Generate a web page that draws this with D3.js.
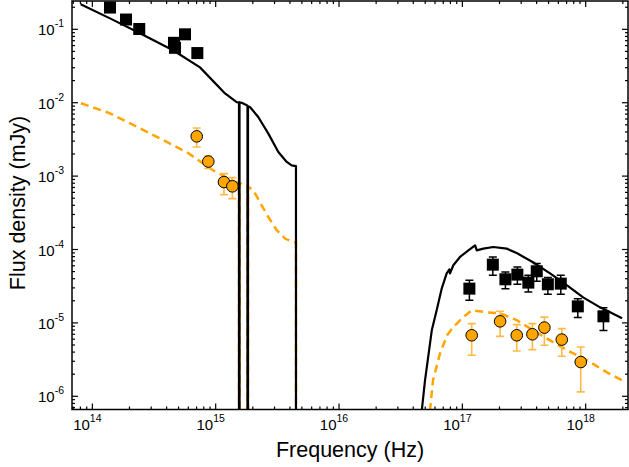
<!DOCTYPE html>
<html>
<head>
<meta charset="utf-8">
<script src="https://cdn.jsdelivr.net/npm/d3@7"></script>
<style>
  html, body { margin: 0; padding: 0; background: #fff; }
  svg { display: block; }
  text { font-family: Arial, "Liberation Sans", sans-serif; fill: #000; }
</style>
</head>
<body>
<svg id="chart" width="629" height="467"></svg>
<script>
// ---- Data (frequency in Hz, flux density in mJy) ----
// Black squares, optical/NIR (no error bars)
const sqOptNu   = [1.39e14, 1.875e14, 2.40e14, 4.59e14, 4.68e14, 5.64e14, 7.10e14];
const sqOptFlux = [0.198, 0.136, 0.101, 0.0655, 0.056, 0.0855, 0.0475];

// Orange circles, optical/UV
const circOptNu   = [7.02e14, 8.71e14, 1.167e15, 1.365e15];
const circOptFlux = [3.48e-3, 1.58e-3, 8.3e-4, 7.26e-4];
const circOptHi   = [4.52e-3, 1.88e-3, 1.08e-3, 9.55e-4];
const circOptLo   = [2.49e-3, 1.27e-3, 5.6e-4, 4.93e-4];

// Black squares, X-ray
const sqXNu   = [1.14e17, 1.766e17, 2.234e17, 2.793e17, 3.428e17, 4.009e17, 4.932e17, 6.28e17, 8.63e17, 1.393e18];
const sqXFlux = [2.93e-5, 6.22e-5, 3.93e-5, 4.55e-5, 3.54e-5, 5.05e-5, 3.36e-5, 3.43e-5, 1.68e-5, 1.23e-5];
const sqXHi   = [3.80e-5, 7.91e-5, 4.93e-5, 5.78e-5, 4.46e-5, 6.43e-5, 4.14e-5, 4.46e-5, 2.14e-5, 1.61e-5];
const sqXLo   = [2.03e-5, 4.46e-5, 2.93e-5, 3.36e-5, 2.64e-5, 3.69e-5, 2.45e-5, 2.45e-5, 1.18e-5, 7.9e-6];

// Orange circles, X-ray
const circXNu   = [1.191e17, 2.023e17, 2.761e17, 3.698e17, 4.624e17, 6.40e17, 9.12e17];
const circXFlux = [6.78e-6, 1.05e-5, 6.78e-6, 7.0e-6, 8.63e-6, 5.92e-6, 2.93e-6];
const circXHi   = [9.77e-6, 1.44e-5, 9.48e-6, 9.77e-6, 1.20e-5, 8.36e-6, 4.70e-6];
const circXLo   = [3.62e-6, 6.56e-6, 4.14e-6, 4.33e-6, 4.95e-6, 3.51e-6, 1.15e-6];

// Black solid model (1e-9 = absorbed to zero)
const modelBlackNu = [8.04e13, 1.39e14, 2.43e14, 4.51e14, 7.46e14, 1.191e15, 1.479e15, 1.545e15, 1.545e15,
  1.560e15, 1.560e15, 1.626e15, 1.782e15, 1.811e15, 1.811e15, 1.828e15, 1.828e15, 1.897e15, 2.213e15,
  2.673e15, 3.221e15, 3.767e15, 4.130e15, 4.477e15, 4.477e15,
  4.58e16, 4.69e16, 4.98e16, 5.65e16, 6.19e16, 6.81e16, 7.46e16, 7.85e16, 7.94e16, 8.45e16, 9.57e16,
  1.119e17, 1.268e17, 1.309e17, 1.479e17, 1.782e17, 2.291e17, 2.780e17, 3.741e17, 5.14e17, 7.06e17,
  9.53e17, 1.309e18, 1.972e18];
const modelBlackFlux = [0.219, 0.141, 0.0883, 0.0518, 0.0303, 0.0134, 0.0102, 0.0101, 1e-9,
  1e-9, 0.0101, 0.0100, 0.00923, 0.00908, 1e-9, 1e-9, 0.00893, 0.00873, 0.00638,
  0.00379, 0.00213, 0.00156, 0.00140, 0.00137, 1e-9,
  1e-9, 6.44e-7, 1.65e-6, 7.92e-6, 1.49e-5, 2.96e-5, 4.74e-5, 5.37e-5, 4.74e-5, 6.10e-5, 7.91e-5,
  9.75e-5, 1.140e-4, 9.75e-5, 1.028e-4, 1.081e-4, 1.028e-4, 8.87e-5, 6.70e-5, 4.74e-5, 3.25e-5,
  2.23e-5, 1.63e-5, 1.156e-5];

// Orange dashed model
const modelOrangeNu = [8.09e13, 1.39e14, 2.93e14, 5.85e14, 9.51e14, 1.435e15, 1.545e15, 1.545e15,
  1.560e15, 1.560e15, 1.675e15, 1.811e15, 1.811e15, 1.828e15, 1.828e15, 2.018e15, 2.360e15, 2.673e15,
  3.126e15, 3.648e15, 4.256e15, 4.477e15, 4.477e15,
  5.42e16, 5.47e16, 5.78e16, 6.59e16, 7.52e16, 8.41e16, 1.014e17, 1.197e17, 1.585e17, 2.023e17,
  2.780e17, 3.741e17, 5.14e17, 7.06e17, 1.026e18, 1.489e18, 1.972e18];
const modelOrangeFlux = [0.00982, 0.00718, 0.00383, 0.00211, 0.00120, 8.32e-4, 8.11e-4, 1e-9,
  1e-9, 8.1e-4, 7.50e-4, 7.26e-4, 1e-9, 1e-9, 7.2e-4, 6.41e-4, 4.00e-4, 2.77e-4,
  1.83e-4, 1.41e-4, 1.26e-4, 1.25e-4, 1e-9,
  1e-9, 6.44e-7, 1.65e-6, 3.85e-6, 6.78e-6, 8.71e-6, 1.19e-5, 1.49e-5, 1.39e-5, 1.35e-5,
  1.08e-5, 7.92e-6, 5.79e-6, 4.24e-6, 3.09e-6, 2.12e-6, 1.65e-6];

// Tick decades
const xTickExps = [14, 15, 16, 17, 18];
const yTickExps = [-6, -5, -4, -3, -2, -1];

// ---- Layout ----
const L = 72, R = 628, T = 1, B = 409.5;
const svg = d3.select("#chart");

const x = d3.scaleLog().domain([Math.pow(10, 13.835), Math.pow(10, 18.343)]).range([L, R]);
const y = d3.scaleLog().domain([Math.pow(10, -6.18), Math.pow(10, -0.614)]).range([B, T]);

svg.append("defs").append("clipPath").attr("id", "clip")
  .append("rect").attr("x", L).attr("y", T).attr("width", R - L).attr("height", B - T);

const plot = svg.append("g").attr("clip-path", "url(#clip)");

const line = d3.line().x(d => x(d[0])).y(d => y(d[1]));

// Orange dashed model
plot.append("path")
  .datum(d3.zip(modelOrangeNu, modelOrangeFlux))
  .attr("d", line)
  .attr("fill", "none")
  .attr("stroke", "#FFA500")
  .attr("stroke-width", 2.5)
  .attr("stroke-dasharray", "8,5");

// Black solid model
plot.append("path")
  .datum(d3.zip(modelBlackNu, modelBlackFlux))
  .attr("d", line)
  .attr("fill", "none")
  .attr("stroke", "#000")
  .attr("stroke-width", 2.2)
  .attr("stroke-linejoin", "round");

// Error bars
function errorBars(nu, lo, hi, color, width) {
  const g = plot.append("g").attr("stroke", color).attr("stroke-width", width).attr("fill", "none");
  const cap = 4;
  nu.forEach((n, i) => {
    const cx = x(n);
    g.append("line").attr("x1", cx).attr("x2", cx).attr("y1", y(lo[i])).attr("y2", y(hi[i]));
    g.append("line").attr("x1", cx - cap).attr("x2", cx + cap).attr("y1", y(lo[i])).attr("y2", y(lo[i]));
    g.append("line").attr("x1", cx - cap).attr("x2", cx + cap).attr("y1", y(hi[i])).attr("y2", y(hi[i]));
  });
}
errorBars(sqXNu, sqXLo, sqXHi, "#000", 1.5);
errorBars(circOptNu, circOptLo, circOptHi, "#FDB94A", 1.6);
errorBars(circXNu, circXLo, circXHi, "#FDB94A", 1.6);

// Squares
const sq = 12;
function squares(nu, flux) {
  plot.append("g").selectAll("rect").data(d3.zip(nu, flux)).join("rect")
    .attr("x", d => x(d[0]) - sq / 2).attr("y", d => y(d[1]) - sq / 2)
    .attr("width", sq).attr("height", sq).attr("fill", "#000");
}
squares(sqOptNu, sqOptFlux);
squares(sqXNu, sqXFlux);

// Circles
function circles(nu, flux) {
  plot.append("g").selectAll("circle").data(d3.zip(nu, flux)).join("circle")
    .attr("cx", d => x(d[0])).attr("cy", d => y(d[1])).attr("r", 5.8)
    .attr("fill", "#FFA500").attr("stroke", "#000").attr("stroke-width", 1);
}
circles(circOptNu, circOptFlux);
circles(circXNu, circXFlux);

// ---- Axes (ticks inward on all four sides) ----
const ax = svg.append("g").attr("stroke", "#000").attr("stroke-width", 1.2);
const majLen = 6, minLen = 3;
xTickExps.concat([13]).forEach(e => {
  for (let m = 1; m <= 9; m++) {
    const v = m * Math.pow(10, e);
    const px = x(v);
    if (px < L || px > R) continue;
    const len = m === 1 ? majLen : minLen;
    ax.append("line").attr("x1", px).attr("x2", px).attr("y1", B).attr("y2", B - len);
    ax.append("line").attr("x1", px).attr("x2", px).attr("y1", T).attr("y2", T + len);
  }
});
yTickExps.concat([-7]).forEach(e => {
  for (let m = 1; m <= 9; m++) {
    const v = m * Math.pow(10, e);
    const py = y(v);
    if (py < T || py > B) continue;
    const len = m === 1 ? majLen : minLen;
    ax.append("line").attr("x1", L).attr("x2", L + len).attr("y1", py).attr("y2", py);
    ax.append("line").attr("x1", R).attr("x2", R - len).attr("y1", py).attr("y2", py);
  }
});
svg.append("rect").attr("x", L).attr("y", T).attr("width", R - L).attr("height", B - T)
  .attr("fill", "none").attr("stroke", "#000").attr("stroke-width", 1.5);

// Tick labels
xTickExps.forEach(e => {
  const t = svg.append("text").attr("x", x(Math.pow(10, e)) - 5).attr("y", 430)
    .attr("text-anchor", "middle").style("font-size", "15px");
  t.append("tspan").text("10");
  t.append("tspan").attr("dy", -8).style("font-size", "10.5px").text(String(e));
});
yTickExps.forEach(e => {
  const t = svg.append("text").attr("x", 64).attr("y", y(Math.pow(10, e)) + 6)
    .attr("text-anchor", "end").style("font-size", "15px");
  t.append("tspan").text("10");
  t.append("tspan").attr("dy", -8).style("font-size", "10.5px").text(String(e));
});

// Axis titles
svg.append("text").attr("x", 350).attr("y", 457).attr("text-anchor", "middle")
  .style("font-size", "21.5px").text("Frequency (Hz)");
svg.append("text").attr("transform", "translate(25,203) rotate(-90)").attr("text-anchor", "middle")
  .style("font-size", "21.5px").text("Flux density (mJy)");
</script>
</body>
</html>
